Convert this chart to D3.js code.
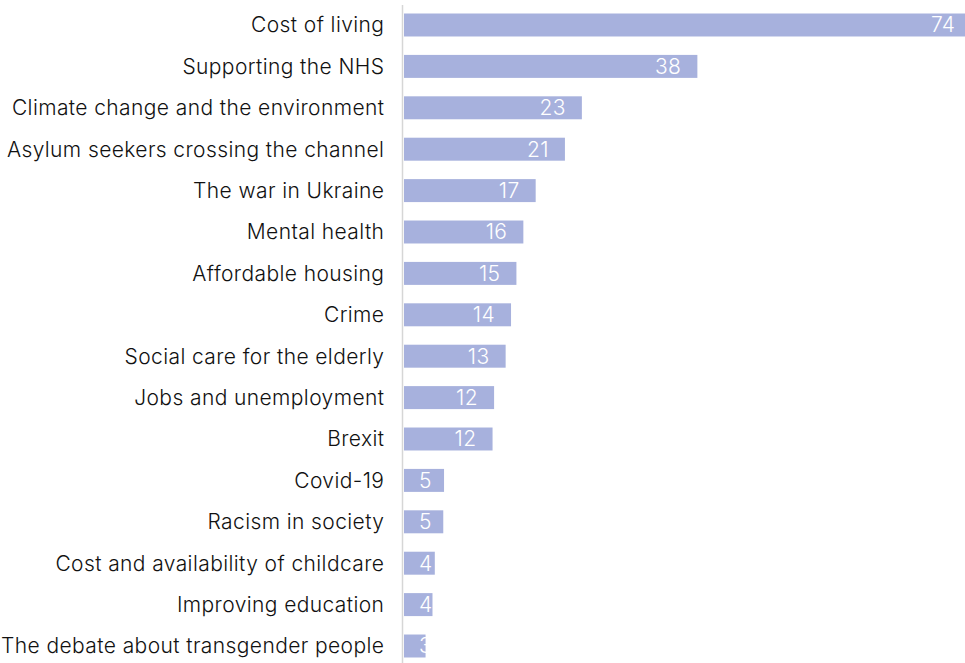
<!DOCTYPE html>
<html>
<head>
<meta charset="utf-8">
<script src="https://cdn.jsdelivr.net/npm/d3@7"></script>
<style>
  html, body { margin: 0; padding: 0; background: #fff; }
  svg { display: block; }
  text { font-family: Inter, "Open Sans", sans-serif; font-weight: 300; letter-spacing: 0.4px; }
</style>
</head>
<body>
<svg id="chart" width="965" height="663"></svg>
<script>
const categories = [
  "Cost of living",
  "Supporting the NHS",
  "Climate change and the environment",
  "Asylum seekers crossing the channel",
  "The war in Ukraine",
  "Mental health",
  "Affordable housing",
  "Crime",
  "Social care for the elderly",
  "Jobs and unemployment",
  "Brexit",
  "Covid-19",
  "Racism in society",
  "Cost and availability of childcare",
  "Improving education",
  "The debate about transgender people"
];
const values = [73.7, 38.1, 23.1, 20.9, 17.1, 15.5, 14.6, 13.9, 13.2, 11.7, 11.5, 5.2, 5.1, 4.0, 3.7, 2.8];
const valueLabels = ["74", "38", "23", "21", "17", "16", "15", "14", "13", "12", "12", "5", "5", "4", "4", "3"];

const data = categories.map((c, i) => ({ cat: c, v: values[i], label: valueLabels[i] }));

const W = 965, H = 663;
const x0 = 404;
const svg = d3.select("#chart");

const x = d3.scaleLinear().domain([0, 74]).range([x0, x0 + 74 * 7.7]);
const y = d3.scaleBand().domain(categories).range([4.4, 666.6]).paddingInner(0.445).paddingOuter(0.22);

// bars
svg.append("g").selectAll("rect").data(data).join("rect")
  .attr("x", x(0))
  .attr("y", d => y(d.cat))
  .attr("width", d => x(d.v) - x(0))
  .attr("height", y.bandwidth())
  .attr("fill", "#a7b1dd");

// axis line
svg.append("line")
  .attr("x1", 402.5).attr("x2", 402.5)
  .attr("y1", 5).attr("y2", H)
  .attr("stroke", "#d6d6d6").attr("stroke-width", 1.5);

// category labels
svg.append("g").selectAll("text").data(data).join("text")
  .attr("x", 384.4)
  .attr("y", d => y(d.cat) + y.bandwidth() / 2)
  .attr("dy", "0.35em")
  .attr("text-anchor", "end")
  .attr("font-size", 21)
  .attr("fill", "#111111")
  .text(d => d.cat);

// value labels
const vl = svg.append("g").selectAll("text").data(data).join("text")
  .attr("y", d => y(d.cat) + y.bandwidth() / 2)
  .attr("dy", "0.35em")
  .attr("text-anchor", "end")
  .attr("font-size", 21)
  .attr("fill", "#ffffff")
  .text(d => d.label);
vl.each(function(d) {
  const w = this.getComputedTextLength();
  const xe = Math.max(x(d.v) - 16, x(0) + 15 + w);
  d3.select(this).attr("x", xe);
});
</script>
</body>
</html>
